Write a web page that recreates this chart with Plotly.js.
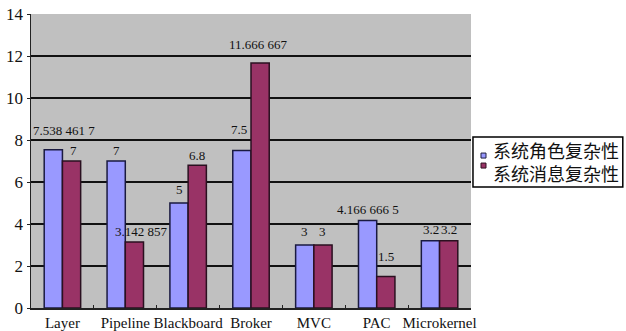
<!DOCTYPE html>
<html><head><meta charset="utf-8">
<script src="https://cdn.plot.ly/plotly-3.0.1.min.js"></script>
<style>body{margin:0;background:#fff}#c{width:626px;height:331px}</style>
</head><body><div id="c"></div>
<script>
var categories = ["Layer","Pipeline","Blackboard","Broker","MVC","PAC","Microkernel"];
var roleValues = [7.5384617, 7, 5, 7.5, 3, 4.1666665, 3.2];
var roleLabels = ["7.538 461 7","7","5","7.5","3","4.166 666 5","3.2"];
var msgValues = [7, 3.142857, 6.8, 11.666667, 3, 1.5, 3.2];
var msgLabels = ["7","3.142 857","6.8","11.666 667","3","1.5","3.2"];
var seriesNames = ["系统角色复杂性","系统消息复杂性"];
var seriesColors = ["#9999ff","#993366"];
var yTicks = [0,2,4,6,8,10,12,14];
// label nudges (style only, pixels)
var roleLabelDx = [11,0,0,-3,0,0,0];
var msgLabelDx = [2,7,0,-2,0,0,0];
var roleLabelDy = [10,1,4,12,4,2,2];
var msgLabelDy = [1,1,0,9,4,11,2];

var serif = "Liberation Serif";
var data = [
  {type:"bar", name:seriesNames[0], x:categories, y:roleValues, hoverinfo:"none",
    marker:{color:seriesColors[0], line:{color:"#1a1a40", width:1.5}}},
  {type:"bar", name:seriesNames[1], x:categories, y:msgValues, hoverinfo:"none",
    marker:{color:seriesColors[1], line:{color:"#2a1020", width:1.5}}}
];
var annotations = [];
function addLabels(vals, labels, dx, dy, base){
  for (var i=0;i<vals.length;i++){
    annotations.push({x:categories[i], y:vals[i], xref:"x", yref:"y", text:labels[i],
      showarrow:false, xanchor:"center", yanchor:"bottom", xshift:base+dx[i], yshift:dy[i],
      font:{family:serif, size:13, color:"#111"}});
  }
}
addLabels(roleValues, roleLabels, roleLabelDx, roleLabelDy, -9);
addLabels(msgValues, msgLabels, msgLabelDx, msgLabelDy, 9);
// manual legend (text)
annotations.push({x:1.046, y:0.4996, xref:"paper", yref:"paper", text:seriesNames.join("<br>"),
  showarrow:false, xanchor:"left", yanchor:"middle", align:"left",
  font:{family:"Noto Sans CJK SC", size:18, color:"#111"}});
var shapes = [
  {type:"rect", xref:"paper", yref:"paper", x0:1.0045, x1:1.345, y0:0.4116, y1:0.5816,
    line:{color:"#000000", width:1.5}, layer:"above"},
  {type:"rect", xref:"paper", yref:"paper", x0:1.0227, x1:1.0341, y0:0.510, y1:0.527,
    line:{color:"#202040", width:1}, fillcolor:seriesColors[0], layer:"above"},
  {type:"rect", xref:"paper", yref:"paper", x0:1.0227, x1:1.0341, y0:0.476, y1:0.493,
    line:{color:"#301020", width:1}, fillcolor:seriesColors[1], layer:"above"}
];
var layout = {
  width:626, height:331,
  margin:{l:31, r:155, t:14, b:23},
  paper_bgcolor:"#fff", plot_bgcolor:"#c0c0c0",
  barmode:"group", bargap:0.42, bargroupgap:0,
  showlegend:false,
  annotations:annotations, shapes:shapes,
  xaxis:{type:"category", showgrid:false, tickson:"boundaries", ticks:"inside", ticklen:3,
    tickangle:0, tickcolor:"#222", showline:true, linecolor:"#222", linewidth:1.5,
    tickfont:{family:serif, size:15, color:"#111"}, fixedrange:true},
  yaxis:{range:[0,14], tickvals:yTicks, ticktext:yTicks.map(String), showgrid:true,
    gridcolor:"#111", gridwidth:2, zeroline:false, showline:true, linecolor:"#222", linewidth:1.5,
    ticks:"outside", ticklen:3, tickcolor:"#222",
    tickfont:{family:serif, size:17, color:"#111"}, fixedrange:true}
};
Plotly.newPlot("c", data, layout, {displayModeBar:false, staticPlot:true});
</script></body></html>
